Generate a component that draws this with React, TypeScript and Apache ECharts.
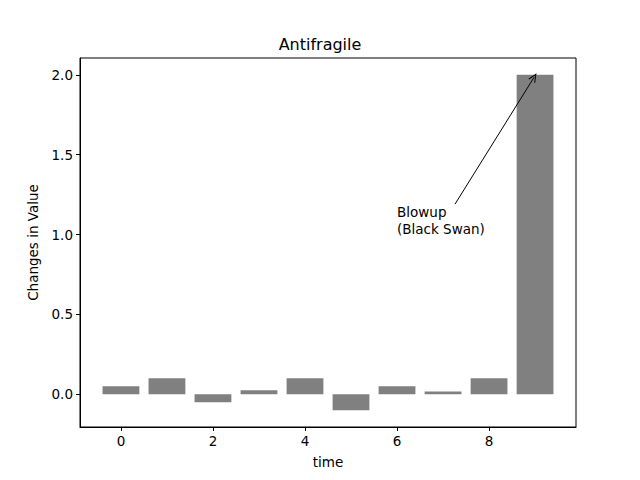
import React, { useEffect, useRef } from "react";
import * as echarts from "echarts";

const times = [0, 1, 2, 3, 4, 5, 6, 7, 8, 9];
const values = [0.05, 0.1, -0.05, 0.025, 0.1, -0.1, 0.05, 0.018, 0.1, 2.0];
const xTicks = [0, 2, 4, 6, 8];
const yTicks = [0, 0.5, 1.0, 1.5, 2.0];
const annotationText = "Blowup\n(Black Swan)";
const annotationAt = [6, 1.0];
const arrowStart = [7.26, 1.19];
const arrowEnd = [8.98, 1.985];

const FONT = "DejaVu Sans";

export default function App() {
  const ref = useRef<HTMLDivElement>(null);
  useEffect(() => {
    if (!ref.current) return;
    const chart = echarts.init(ref.current, null, { renderer: "svg" });
    const gridLeft = 80, gridRight = 64, gridTop = 58, gridBottom = 53;
    const xMin = -0.89, xMax = 9.89;
    const pxPerUnit = (640 - gridLeft - gridRight) / (xMax - xMin);
    chart.setOption({
      animation: false,
      backgroundColor: "#ffffff",
      title: {
        text: "Antifragile",
        left: "center",
        top: 31,
        textStyle: { fontFamily: FONT, fontSize: 16, fontWeight: "normal", color: "#000" },
      },
      grid: {
        left: gridLeft,
        right: gridRight,
        top: gridTop,
        bottom: gridBottom,
        show: true,
        borderColor: "#000",
        borderWidth: 1,
        backgroundColor: "#fff",
      },
      xAxis: {
        type: "value",
        min: xMin,
        max: xMax,
        name: "time",
        nameLocation: "middle",
        nameGap: 28,
        nameTextStyle: { fontFamily: FONT, fontSize: 13.5, color: "#000" },
        axisLine: { show: true, onZero: false, lineStyle: { color: "#000" } },
        axisTick: { show: true, length: 4, customValues: xTicks, lineStyle: { color: "#000" } },
        axisLabel: {
          customValues: xTicks,
          fontFamily: FONT,
          fontSize: 13.5,
          color: "#000",
          margin: 7,
          formatter: (v: number) => String(v),
        },
        splitLine: { show: false },
      },
      yAxis: {
        type: "value",
        min: -0.205,
        max: 2.105,
        name: "Changes in Value",
        nameLocation: "middle",
        nameGap: 40,
        nameTextStyle: { fontFamily: FONT, fontSize: 13.5, color: "#000" },
        axisLine: { show: true, onZero: false, lineStyle: { color: "#000" } },
        axisTick: { show: true, length: 4, customValues: yTicks, lineStyle: { color: "#000" } },
        axisLabel: {
          customValues: yTicks,
          fontFamily: FONT,
          fontSize: 13.5,
          color: "#000",
          margin: 7,
          formatter: (v: number) => v.toFixed(1),
        },
        splitLine: { show: false },
      },
      series: [
        {
          type: "bar",
          data: times.map((t, i) => [t, values[i]]),
          barWidth: 0.8 * pxPerUnit,
          itemStyle: { color: "#808080" },
          markPoint: {
            symbol: "circle",
            symbolSize: 0,
            data: [
              {
                coord: annotationAt,
                label: {
                  show: true,
                  formatter: annotationText,
                  position: [0, 3],
                  align: "left",
                  verticalAlign: "bottom",
                  fontFamily: FONT,
                  fontSize: 13.5,
                  lineHeight: 17,
                  color: "#000",
                },
              },
            ],
          },
          markLine: {
            silent: true,
            symbol: ["none", "path://M5,0 L10,10 L8.6,10 L5,2.6 L1.4,10 L0,10 Z"],
            symbolSize: [8, 9],
            label: { show: false },
            lineStyle: { color: "#000", width: 1, type: "solid" },
            data: [[{ coord: arrowStart }, { coord: arrowEnd }]],
          },
        },
      ],
    });
    return () => chart.dispose();
  }, []);
  return (
    <div
      ref={ref}
      style={{ position: "absolute", left: 0, top: 0, width: 640, height: 480 }}
    />
  );
}
